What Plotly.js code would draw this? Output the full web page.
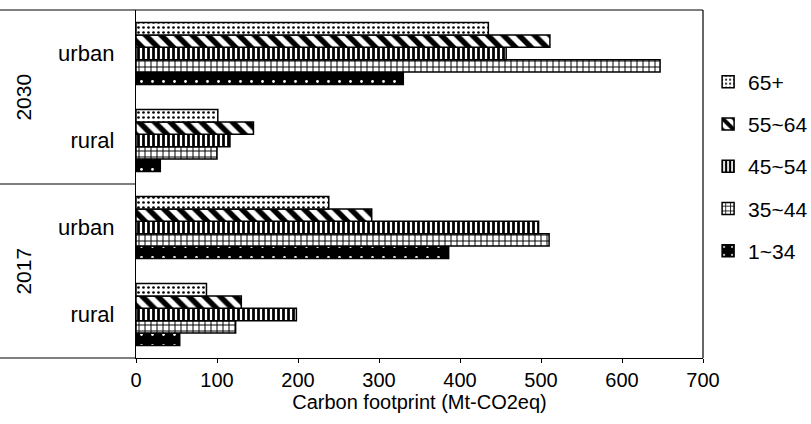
<!DOCTYPE html>
<html>
<head>
<meta charset="utf-8">
<script src="https://cdn.plot.ly/plotly-3.0.1.min.js"></script>
<style>html,body{margin:0;padding:0;background:#fff;}#chart{width:811px;height:424px;}</style>
</head>
<body>
<div id="chart"></div>
<script>
// Categories (bottom to top)
const categories = ["2017 rural", "2017 urban", "2030 rural", "2030 urban"];
const categoryLabels = ["rural", "urban", "rural", "urban"];
const years = ["2017", "2030"];
const xTicks = [0, 100, 200, 300, 400, 500, 600, 700];

// Series values (Mt-CO2eq), same order as categories
const seriesNames = ["1~34", "35~44", "45~54", "55~64", "65+"];
const age1_34  = [54, 386, 30, 330];
const age35_44 = [123, 510, 100, 647];
const age45_54 = [198, 497, 116, 457];
const age55_64 = [130, 291, 145, 511];
const age65p   = [87, 238, 101, 435];

const seriesValues = [age1_34, age35_44, age45_54, age55_64, age65p];
const patterns = [
  {shape: ".", fgcolor: "#ffffff", bgcolor: "#000000", size: 11, solidity: 0.05, fillmode: "replace"},
  {shape: "+", fgcolor: "#000000", bgcolor: "#ffffff", size: 6, solidity: 0.3, fillmode: "replace"},
  {shape: "|", fgcolor: "#000000", bgcolor: "#ffffff", size: 5, solidity: 0.55, fillmode: "replace"},
  {shape: "\\", fgcolor: "#000000", bgcolor: "#ffffff", size: 11, solidity: 0.5, fillmode: "replace"},
  {shape: ".", fgcolor: "#000000", bgcolor: "#ffffff", size: 5, solidity: 0.22, fillmode: "replace"}
];
const fills = ["#000000", "#ffffff", "#ffffff", "#ffffff", "#ffffff"];

const traces = seriesNames.map((name, i) => ({
  type: "bar",
  orientation: "h",
  name: name,
  legendgroup: name,
  legendrank: seriesNames.length - i,
  y: categories,
  x: seriesValues[i],
  marker: {color: fills[i], pattern: patterns[i], line: {color: "#000000", width: 1.5}},
  hoverinfo: "x+name"
}));

const font = "Liberation Sans, Arial, sans-serif";
const divider = {type: "line", xref: "paper", yref: "paper", line: {color: "#000", width: 1.2}};

const layout = {
  width: 811, height: 424,
  margin: {l: 136, r: 108, t: 10, b: 66, autoexpand: false},
  paper_bgcolor: "#fff", plot_bgcolor: "#fff",
  barmode: "group",
  bargap: 0.29, bargroupgap: 0,
  font: {family: font, color: "#000"},
  showlegend: true,
  legend: {
    x: 1.009, y: 0.852, xanchor: "left", yanchor: "top",
    traceorder: "grouped", tracegroupgap: 12,
    font: {size: 21, family: font}, bgcolor: "rgba(0,0,0,0)"
  },
  xaxis: {
    range: [0, 700], tickvals: xTicks, ticktext: xTicks.map(String),
    showgrid: false, zeroline: false,
    showline: true, linecolor: "#000", linewidth: 1.2,
    ticks: "outside", ticklen: 4, tickcolor: "#000",
    tickfont: {size: 20, family: font},
    title: {text: "Carbon footprint (Mt-CO2eq)", font: {size: 20, family: font}, standoff: 2}
  },
  yaxis: {
    type: "category", categoryorder: "array", categoryarray: categories,
    tickvals: categories, ticktext: categoryLabels,
    showgrid: false, zeroline: false,
    showline: true, linecolor: "#000", linewidth: 1.2,
    ticks: "", ticklabelstandoff: 16,
    tickfont: {size: 22, family: font}
  },
  shapes: [
    Object.assign({x0: -0.24, x1: 1, y0: 1, y1: 1}, divider),
    Object.assign({x0: 1, x1: 1, y0: 0, y1: 1}, divider),
    Object.assign({x0: -0.24, x1: 0, y0: 0, y1: 0}, divider),
    Object.assign({x0: -0.24, x1: 0, y0: 0.5, y1: 0.5}, divider)
  ],
  annotations: years.map((yr, i) => ({
    text: yr, xref: "paper", yref: "paper", x: -0.2, y: 0.25 + 0.5 * i,
    textangle: -90, showarrow: false, font: {size: 21, family: font},
    xanchor: "center", yanchor: "middle"
  }))
};

Plotly.newPlot("chart", traces, layout, {displayModeBar: false, staticPlot: true});
</script>
</body>
</html>
